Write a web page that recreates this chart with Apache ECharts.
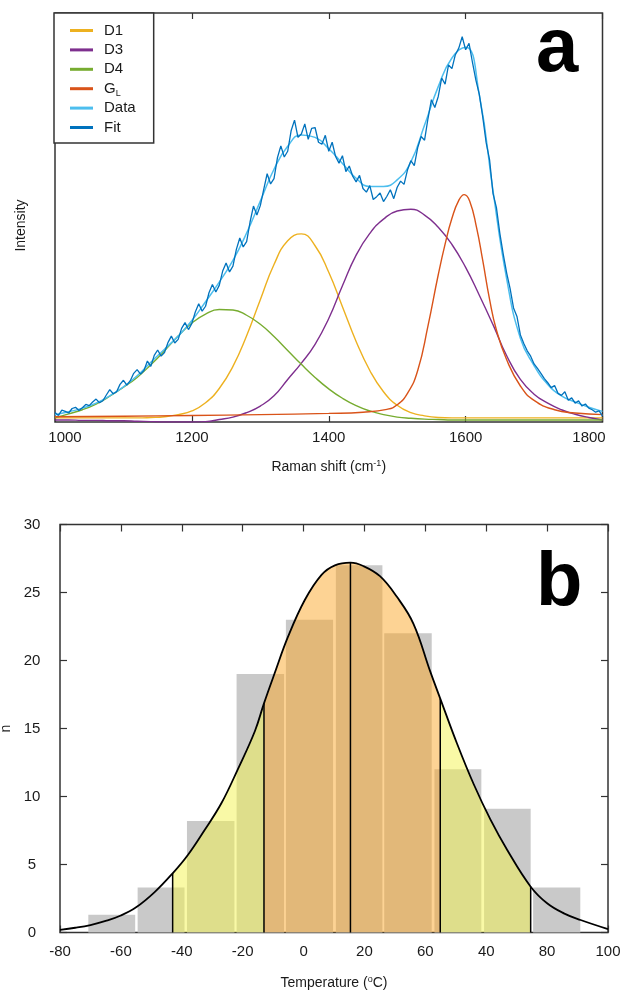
<!DOCTYPE html>
<html>
<head>
<meta charset="utf-8">
<script src="https://cdn.jsdelivr.net/npm/echarts@6.0.0/dist/echarts.min.js"></script>
<style>
  html, body { margin: 0; padding: 0; background: #fff; }
  #chart { width: 626px; height: 992px; }
</style>
</head>
<body>
<div id="chart"></div>
<script>
// ---- panel a: Raman spectrum ----
const ramanX = [1000, 1020, 1040, 1060, 1080, 1100, 1120, 1140, 1160, 1180,
  1200, 1220, 1240, 1260, 1280, 1300, 1320, 1340, 1360, 1380,
  1400, 1420, 1440, 1460, 1480, 1500, 1520, 1540, 1560, 1580,
  1600, 1620, 1640, 1660, 1680, 1700, 1720, 1740, 1760, 1780, 1800]
const d1 = [1.0, 1.0, 1.0, 1.0, 1.0, 1.0, 1.0, 1.1, 1.3, 1.8,
  2.7, 4.7, 8.2, 13.6, 21.1, 29.9, 38.5, 44.3, 46.0, 43.1,
  36.6, 28.2, 19.7, 12.6, 7.4, 4.1, 2.3, 1.5, 1.1, 1.0,
  1.0, 1.0, 1.0, 1.0, 1.0, 1.0, 1.0, 1.0, 1.0, 1.0, 1.0]
const d3 = [0.5, 0.5, 0.4, 0.4, 0.3, 0.3, 0.2, 0.1, 0.0, 0.0,
  0.0, 0.1, 0.6, 1.2, 2.3, 3.9, 6.4, 10.4, 14.4, 19.0,
  25.3, 33.3, 40.8, 46.1, 49.6, 51.6, 52.0, 50.6, 47.6, 43.4,
  37.8, 31.0, 23.8, 16.2, 10.4, 6.8, 4.6, 3.0, 1.9, 1.1, 0.5]
const d4 = [1.1, 2.0, 3.0, 4.4, 6.3, 8.5, 10.9, 14.0, 17.4, 21.0,
  24.2, 26.4, 27.5, 27.4, 26.1, 23.9, 20.9, 17.5, 14.1, 10.9,
  8.1, 5.8, 4.0, 2.7, 1.8, 1.2, 0.9, 0.7, 0.6, 0.5,
  0.5, 0.5, 0.5, 0.5, 0.5, 0.5, 0.5, 0.5, 0.5, 0.5, 0.5]
const dataSmooth = [1.8, 2.5, 3.4, 4.6, 6.4, 8.6, 11.3, 14.6, 17.8, 21.0,
  24.8, 29.4, 34.2, 39.5, 46.2, 54.0, 61.8, 67.4, 70.2, 69.6,
  66.8, 63.2, 59.6, 57.6, 57.6, 59.2, 63.6, 72.6, 82.0, 89.0,
  91.6, 80.0, 56.5, 35.0, 20.5, 13.8, 9.2, 6.4, 4.9, 3.6, 2.6]
const glX = [1000, 1100, 1200, 1300, 1400, 1450, 1485, 1500, 1515, 1530, 1545, 1560,
  1570, 1580, 1590, 1598, 1606, 1616, 1625, 1635, 1645, 1660, 1680, 1700, 1730, 1760, 1800]
const glY = [1.3, 1.4, 1.6, 1.8, 2.1, 2.4, 3.1, 4.2, 7.0, 12.6, 23.5, 36.0,
  43.5, 49.8, 54.2, 55.6, 54.0, 47.5, 39.5, 30.0, 22.5, 15.2, 8.8, 5.3, 3.0, 2.2, 1.8]
// measured trace, one reading every 5 cm-1 from 1000 to 1800
const fitStart = 1000
const fitStep = 5
const fitY = [
  2.3, 1.6, 2.9, 2.6, 2.2, 3.3, 3.6, 2.8, 3.5, 4.3,
  4.0, 4.9, 5.6, 4.7, 5.2, 6.6, 7.9, 6.9, 7.4, 9.2,
  10.2, 9.0, 10.1, 11.9, 12.8, 11.7, 12.6, 14.9, 13.6, 16.3,
  17.6, 16.1, 17.0, 19.4, 21.0, 19.3, 20.2, 22.9, 24.3, 22.6,
  24.1, 26.9, 28.9, 27.1, 28.3, 31.6, 33.6, 31.8, 33.4, 36.9,
  38.9, 36.7, 38.1, 42.2, 45.0, 42.8, 44.1, 48.9, 52.8, 50.6,
  52.9, 56.9, 60.7, 58.2, 59.5, 64.6, 67.5, 64.8, 66.2, 71.2,
  73.8, 69.6, 70.4, 72.9, 69.1, 71.8, 72.0, 68.4, 67.9, 70.1,
  66.2, 68.4, 64.9, 63.3, 65.1, 61.2, 62.6, 60.1, 58.7, 60.3,
  57.1, 56.2, 57.8, 54.4, 55.1, 56.0, 53.9, 55.2, 56.8, 54.6,
  57.4, 58.9, 58.1, 61.6, 63.9, 62.7, 67.1, 69.8, 68.9, 74.2,
  78.8, 76.9, 79.6, 84.1, 82.6, 87.3, 86.4, 89.8, 91.4, 94.2,
  91.0, 92.6, 87.9, 83.6, 80.1, 74.6, 68.3, 64.1, 55.9, 52.4,
  46.1, 41.0, 36.4, 32.6, 27.9, 25.8, 21.3, 19.2, 17.4, 16.1,
  14.2, 13.1, 11.9, 10.6, 9.6, 8.4, 8.9, 7.0, 6.5, 7.4,
  5.3, 5.9, 4.6, 5.2, 3.9, 4.4, 3.4, 3.0, 2.4, 2.7,
  1.5
]

// ---- panel b: temperature histogram ----
const binStart = [-70.7, -54.5, -38.3, -22.0, -5.8, 10.6, 26.5, 43.0, 59.3, 75.4]
const binEnd = [-55.3, -39.1, -22.7, -6.4, 9.7, 25.9, 42.1, 58.4, 74.6, 90.9]
const binCount = [1.3, 3.3, 8.2, 19, 23, 27, 22, 12, 9.1, 3.3]
const curveT = [-80, -75, -70, -65, -60, -55, -49, -43, -38, -32.6, -27, -21.6, -16, -13, -9.5, -5.1,
  0.4, 5.9, 10.3, 15.4, 19.6, 25.1, 30.6, 36.1, 41.6, 44.9, 50.4, 55.9, 61.4, 66.9, 74.6,
  80, 85.5, 91, 100]
const curveN = [0.2, 0.35, 0.55, 0.85, 1.25, 1.85, 2.95, 4.35, 5.7, 7.5, 9.5, 12.0, 14.8, 16.85, 19.06, 21.75,
  24.45, 26.3, 27.0, 27.2, 26.95, 26.2, 24.7, 22.7, 19.2, 17.2, 13.9, 10.9, 8.3, 6.07, 3.37,
  2.15, 1.41, 0.92, 0.25]
const sigmaT = [-43, -13, 15.4, 44.9, 74.6]
const tempTicks = ['-80', '-60', '-40', '-20', '0', '20', '60', '40', '80', '100']

const font = '"Liberation Sans", Arial, sans-serif'
const txt = '#1a1a1a'
const frame = '#333'

const pairs = (xs, ys) => xs.map((x, i) => [x, ys[i]])
const fitData = fitY.map((y, i) => [fitStart + i * fitStep, y])
const curveData = pairs(curveT, curveN)
const sIdx = sigmaT.map(t => curveT.indexOf(t))

const lineSeries = (name, data, color, width, smooth) => ({
  name, type: 'line', data, xAxisIndex: 0, yAxisIndex: 0,
  showSymbol: false, smooth,
  lineStyle: { color, width }, itemStyle: { color }, silent: true
})

const fillSeries = (data, color) => ({
  type: 'line', data, xAxisIndex: 2, yAxisIndex: 1, z: 3,
  showSymbol: false, smooth: 0.4,
  lineStyle: { width: 0 }, areaStyle: { color, opacity: 1 }, silent: true
})

const tick = len => ({ inside: true, length: len, lineStyle: { color: frame, width: 1.2 } })
const noLine = { show: false, onZero: false }

const chart = echarts.init(document.getElementById('chart'))

chart.setOption({
  animation: false,
  textStyle: { fontFamily: font },
  title: [
    { text: 'a', left: 536, top: 12, padding: 0,
      textStyle: { fontSize: 76, fontWeight: 'bold', color: '#000', fontFamily: font } },
    { text: 'b', left: 536, top: 546, padding: 0,
      textStyle: { fontSize: 76, fontWeight: 'bold', color: '#000', fontFamily: font } }
  ],
  legend: {
    data: ['D1', 'D3', 'D4', 'GL', 'Data', 'Fit'],
    orient: 'vertical', left: 54, top: 13,
    padding: [8, 18, 6, 16], itemGap: 0.4,
    itemWidth: 23, itemHeight: 3, icon: 'rect',
    borderColor: frame, borderWidth: 1.5, backgroundColor: '#fff',
    selectedMode: false,
    formatter: name => name === 'GL' ? 'G{sub|L}' : name,
    textStyle: {
      fontSize: 15, lineHeight: 19, color: txt, fontFamily: font, padding: [0, 0, 0, 6],
      rich: { sub: { fontSize: 9, lineHeight: 19, verticalAlign: 'bottom', color: txt, fontFamily: font } }
    }
  },
  grid: [
    { left: 55, right: 23.5, top: 13, bottom: 570, show: true, borderColor: frame, borderWidth: 1.5,
      outerBoundsMode: 'none' },
    { left: 60, right: 18, top: 524.5, bottom: 59.5, show: true, borderColor: frame, borderWidth: 1.5,
      outerBoundsMode: 'none' }
  ],
  xAxis: [
    { type: 'value', gridIndex: 0, min: 1000, max: 1800, interval: 200,
      axisLine: noLine, splitLine: { show: false }, axisTick: tick(6),
      axisLabel: {
        fontSize: 15, color: txt, margin: 8, fontFamily: font,
        formatter: v => v === 1000 ? '{lo|1000}' : v === 1800 ? '{hi|1800}' : String(v),
        rich: {
          lo: { fontSize: 15, color: txt, fontFamily: font, padding: [0, 0, 0, 20] },
          hi: { fontSize: 15, color: txt, fontFamily: font, padding: [0, 27, 0, 0] }
        }
      },
      name: 'Raman shift (cm{sup|-1})', nameLocation: 'middle', nameGap: 37,
      nameTextStyle: { fontSize: 14, color: txt, lineHeight: 16, fontFamily: font,
        rich: { sup: { fontSize: 9, lineHeight: 16, verticalAlign: 'top', color: txt, fontFamily: font } } }
    },
    { type: 'value', gridIndex: 0, position: 'top', min: 1000, max: 1800, interval: 200,
      axisLine: noLine, splitLine: { show: false }, axisLabel: { show: false }, axisTick: tick(6) },
    { type: 'value', gridIndex: 1, min: -80, max: 100, interval: 20,
      axisLine: noLine, splitLine: { show: false }, axisTick: tick(7),
      axisLabel: { fontSize: 15, color: txt, margin: 12, fontFamily: font,
        formatter: v => tempTicks[Math.round((v + 80) / 20)] },
      name: 'Temperature ({sup|o}C)', nameLocation: 'middle', nameGap: 43,
      nameTextStyle: { fontSize: 14, color: txt, lineHeight: 16, fontFamily: font,
        rich: { sup: { fontSize: 9, lineHeight: 16, verticalAlign: 'top', color: txt, fontFamily: font } } }
    },
    { type: 'value', gridIndex: 1, position: 'top', min: -80, max: 100, interval: 20,
      axisLine: noLine, splitLine: { show: false }, axisLabel: { show: false }, axisTick: tick(7) }
  ],
  yAxis: [
    { type: 'value', gridIndex: 0, min: 0, max: 100,
      axisLine: noLine, axisTick: { show: false }, axisLabel: { show: false },
      splitLine: { show: false },
      name: 'Intensity', nameLocation: 'middle', nameGap: 27,
      nameTextStyle: { fontSize: 14, color: txt, fontFamily: font, padding: [0, 0, 0, -16] } },
    { type: 'value', gridIndex: 1, position: 'left', min: 0, max: 30, interval: 5,
      axisLine: noLine, splitLine: { show: false }, axisTick: tick(7),
      axisLabel: { fontSize: 15, color: txt, margin: 28, align: 'center', fontFamily: font },
      name: 'n', nameLocation: 'middle', nameGap: 47,
      nameTextStyle: { fontSize: 14, color: txt, fontFamily: font } },
    { type: 'value', gridIndex: 1, position: 'right', min: 0, max: 30, interval: 5,
      axisLine: noLine, splitLine: { show: false }, axisLabel: { show: false }, axisTick: tick(7) }
  ],
  series: [
    lineSeries('D1', pairs(ramanX, d1), '#EDB120', 1.4, true),
    lineSeries('D3', pairs(ramanX, d3), '#7E2F8E', 1.4, true),
    lineSeries('D4', pairs(ramanX, d4), '#77AC30', 1.4, true),
    lineSeries('GL', pairs(glX, glY), '#D95319', 1.4, true),
    lineSeries('Data', pairs(ramanX, dataSmooth), '#4DBEEE', 1.5, true),
    Object.assign(lineSeries('Fit', fitData, '#0072BD', 1.3, false), { z: 3 }),

    { type: 'custom', xAxisIndex: 2, yAxisIndex: 1, z: 2, silent: true,
      data: binStart.map((s, i) => [s, binEnd[i], binCount[i]]),
      encode: { x: [0, 1], y: 2 },
      renderItem: (params, api) => {
        const p0 = api.coord([api.value(0), api.value(2)])
        const p1 = api.coord([api.value(1), 0])
        return { type: 'rect',
          shape: { x: p0[0], y: p0[1], width: p1[0] - p0[0], height: p1[1] - p0[1] },
          style: { fill: '#c9c9c9' } }
      } },
    fillSeries(curveData.slice(sIdx[0], sIdx[1] + 1), 'rgba(243,243,77,0.5)'),
    fillSeries(curveData.slice(sIdx[1], sIdx[3] + 1), 'rgba(251,167,41,0.5)'),
    fillSeries(curveData.slice(sIdx[3], sIdx[4] + 1), 'rgba(243,243,77,0.5)'),
    { type: 'line', data: curveData, xAxisIndex: 2, yAxisIndex: 1, z: 5,
      showSymbol: false, smooth: 0.4, silent: true,
      lineStyle: { color: '#000', width: 1.8 } },
    { type: 'custom', xAxisIndex: 2, yAxisIndex: 1, z: 6, silent: true,
      data: sigmaT.map((t, k) => [t, curveN[sIdx[k]]]),
      renderItem: (params, api) => {
        const a = api.coord([api.value(0), 0])
        const b = api.coord([api.value(0), api.value(1)])
        return { type: 'line', shape: { x1: a[0], y1: a[1], x2: b[0], y2: b[1] },
          style: { stroke: '#000', lineWidth: 1.5 } }
      } }
  ]
})
</script>
</body>
</html>
